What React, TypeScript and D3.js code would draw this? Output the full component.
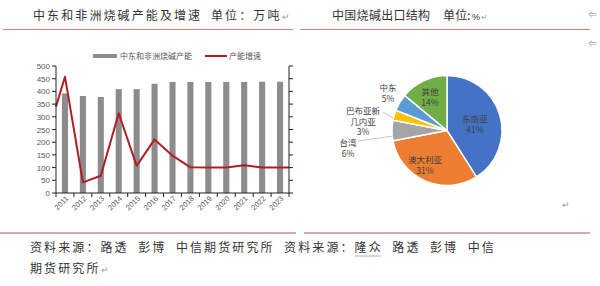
import React from "react";
import * as d3 from "d3";

const years = ["2011","2012","2013","2014","2015","2016","2017","2018","2019","2020","2021","2022","2023"];
const capacity = [392, 382, 378, 409, 409, 430, 437, 437, 437, 437, 437, 438, 438];
const growth = [458, 42, 68, 314, 107, 211, 147, 101, 100, 100, 109, 100, 100];
const growthLead = 340;
const growthTail = 100;
const yTicks = [0, 50, 100, 150, 200, 250, 300, 350, 400, 450, 500];

const pieLabels = ["东南亚", "澳大利亚", "台湾", "巴布亚新几内亚", "中东", "其他"];
const pieValues = [41, 31, 6, 3, 5, 14];
const pieColors = ["#4472C4", "#ED7D31", "#A5A5A5", "#FFC000", "#5B9BD5", "#70AD47"];

const sourceWords = ["资料来源：路透", "彭博", "中信期货研究所", "资料来源：", "隆众", "路透", "彭博", "中信"];

const CJK = "'Noto Sans CJK SC', sans-serif";
const NUM = "'Liberation Sans', Arial, sans-serif";

export default function App() {
  const x0 = 56, x1 = 289, yT = 66, yB = 193;
  const y = d3.scaleLinear().domain([0, 500]).range([yB, yT]);
  const xb = d3.scaleBand().domain(years).range([x0, x1]).paddingInner(0.66).paddingOuter(0.33);
  const xi = d3.scaleLinear().domain([-0.5, years.length - 0.5]).range([x0, x1]);
  const linePts: [number, number][] = [
    [-0.5, growthLead],
    ...growth.map((v, i) => [i, v] as [number, number]),
    [years.length - 0.5, growthTail],
  ];
  const line = d3.line<[number, number]>().x(d => xi(d[0])).y(d => y(d[1]));
  const step = (x1 - x0) / years.length;

  const cx = 447, cy = 130.5, r = 55;
  const pie = d3.pie<number>().sort(null).value(d => d)(pieValues);
  const arc = d3.arc<d3.PieArcDatum<number>>().innerRadius(0).outerRadius(r);

  const pitch = 14.1, spaceW = 9.5;
  let cur = 30;
  const words = sourceWords.map((w, i) => {
    const xx = cur;
    const n = Array.from(w).length;
    cur += n * pitch;
    if (i !== 3) cur += spaceW;
    return { w, x: xx, len: n * pitch };
  });

  const gridColor = "#595959";
  const pieLbl = (lines: string[], px: number, py: number, key: string) => (
    <text key={key} x={px} y={py} textAnchor="middle" fontFamily={CJK} fontSize={8.5} fill="#404040">
      {lines.map((l, i) => (
        <tspan key={i} x={px} dy={i === 0 ? 0 : 10.5}>{l}</tspan>
      ))}
    </text>
  );

  return (
    <svg width={600} height={286} style={{ position: "fixed", left: 0, top: 0, background: "#fff" }}>
      <text x={33} y={20} fontFamily={CJK} fontSize={12} letterSpacing={2.1} fill="#333">中东和非洲烧碱产能及增速</text>
      <text x={211} y={20} fontFamily={CJK} fontSize={12} letterSpacing={2.1} fill="#333">单位：万吨</text>
      <text x={282} y={20} fontFamily={CJK} fontSize={9} fill="#999">↵</text>
      <text x={332} y={20} fontFamily={CJK} fontSize={12} letterSpacing={0.3} fill="#333">中国烧碱出口结构</text>
      <text x={443} y={20} fontFamily={CJK} fontSize={12} letterSpacing={0.3} fill="#333">单位</text>
      <text x={467} y={20} fontFamily={CJK} fontSize={12} fill="#333">:</text>
      <text x={472} y={20} fontFamily={NUM} fontSize={9} fill="#333">%</text>
      <text x={481} y={20} fontFamily={CJK} fontSize={8} fill="#999">↵</text>
      <text x={588} y={18} fontFamily={CJK} fontSize={9} fill="#aaa">⇐</text>
      <text x={588} y={47} fontFamily={CJK} fontSize={9} fill="#aaa">⇐</text>
      <line x1={3} x2={293} y1={29.5} y2={29.5} stroke="#c98578" strokeWidth={1.2} />
      <line x1={300} x2={590} y1={29.5} y2={29.5} stroke="#c98578" strokeWidth={1.2} />

      <rect x={93} y={54} width={24} height={4} fill="#8c8c8c" />
      <text x={120} y={59} fontFamily={CJK} fontSize={8} fill="#595959">中东和非洲烧碱产能</text>
      <line x1={205} x2={227} y1={56} y2={56} stroke="#B01E22" strokeWidth={2} />
      <text x={229} y={59} fontFamily={CJK} fontSize={8} fill="#595959">产能增速</text>

      {years.map((yr, i) => (
        <rect key={yr} x={xb(yr)} y={y(capacity[i])} width={xb.bandwidth()} height={yB - y(capacity[i])} fill="#8c8c8c" />
      ))}
      <path d={line(linePts) || ""} fill="none" stroke="#B01E22" strokeWidth={2} strokeLinejoin="round" />

      <line x1={x0} x2={x0} y1={yT} y2={yB} stroke="#222" strokeWidth={1} />
      <line x1={x1} x2={x1} y1={yT} y2={yB} stroke="#222" strokeWidth={1} />
      <line x1={x0} x2={x1} y1={yB} y2={yB} stroke="#222" strokeWidth={1} />
      {yTicks.map(t => (
        <g key={t}>
          <line x1={x0 - 4} x2={x0} y1={y(t)} y2={y(t)} stroke="#222" />
          <line x1={x1} x2={x1 + 4} y1={y(t)} y2={y(t)} stroke="#222" />
          <text x={x0 - 6} y={y(t) + 3} textAnchor="end" fontFamily={NUM} fontSize={8} fill={gridColor}>{t}</text>
        </g>
      ))}
      {d3.range(years.length + 1).map(i => (
        <line key={i} x1={x0 + i * step} x2={x0 + i * step} y1={yB} y2={yB + 4} stroke="#222" />
      ))}
      {years.map(yr => {
        const cxx = (xb(yr) || 0) + xb.bandwidth() / 2;
        return (
          <text key={yr} transform={`translate(${cxx + 4},${yB + 6}) rotate(-45)`} textAnchor="end" fontFamily={NUM} fontSize={7.5} fill={gridColor}>{yr}</text>
        );
      })}

      <g transform={`translate(${cx},${cy})`}>
        {pie.map((d, i) => (
          <path key={i} d={arc(d) || ""} fill={pieColors[i]} stroke="#fff" strokeWidth={1.5} />
        ))}
      </g>
      <polyline points="383,112 393,118" fill="none" stroke="#bbb" strokeWidth={0.8} />
      <polyline points="358,141 393,136" fill="none" stroke="#bbb" strokeWidth={0.8} />
      {pieLbl([pieLabels[0], pieValues[0] + "%"], 475, 122, "p0")}
      {pieLbl([pieLabels[1], pieValues[1] + "%"], 425, 163, "p1")}
      {pieLbl([pieLabels[2], pieValues[2] + "%"], 348, 146, "p2")}
      {pieLbl(["巴布亚新", "几内亚", pieValues[3] + "%"], 363, 114, "p3")}
      {pieLbl([pieLabels[4], pieValues[4] + "%"], 388, 91, "p4")}
      {pieLbl([pieLabels[5], pieValues[5] + "%"], 430, 95, "p5")}

      <text x={562} y={208} fontFamily={CJK} fontSize={9} fill="#999">↵</text>

      <line x1={0} x2={296} y1={233} y2={233} stroke="#e4a3ae" strokeWidth={2} />
      <line x1={304} x2={590} y1={233} y2={233} stroke="#e4a3ae" strokeWidth={2} />
      {words.map((w, i) => (
        <text key={i} x={w.x} y={252} fontFamily={CJK} fontSize={12} letterSpacing={2.1} fill="#333">{w.w}</text>
      ))}
      <line x1={words[4].x} x2={words[4].x + words[4].len - 2} y1={256} y2={256} stroke="#9db4e0" strokeWidth={1} />
      <text x={30} y={273} fontFamily={CJK} fontSize={12} letterSpacing={2.1} fill="#333">期货研究所</text>
      <text x={101} y={273} fontFamily={CJK} fontSize={9} fill="#999">↵</text>
    </svg>
  );
}
